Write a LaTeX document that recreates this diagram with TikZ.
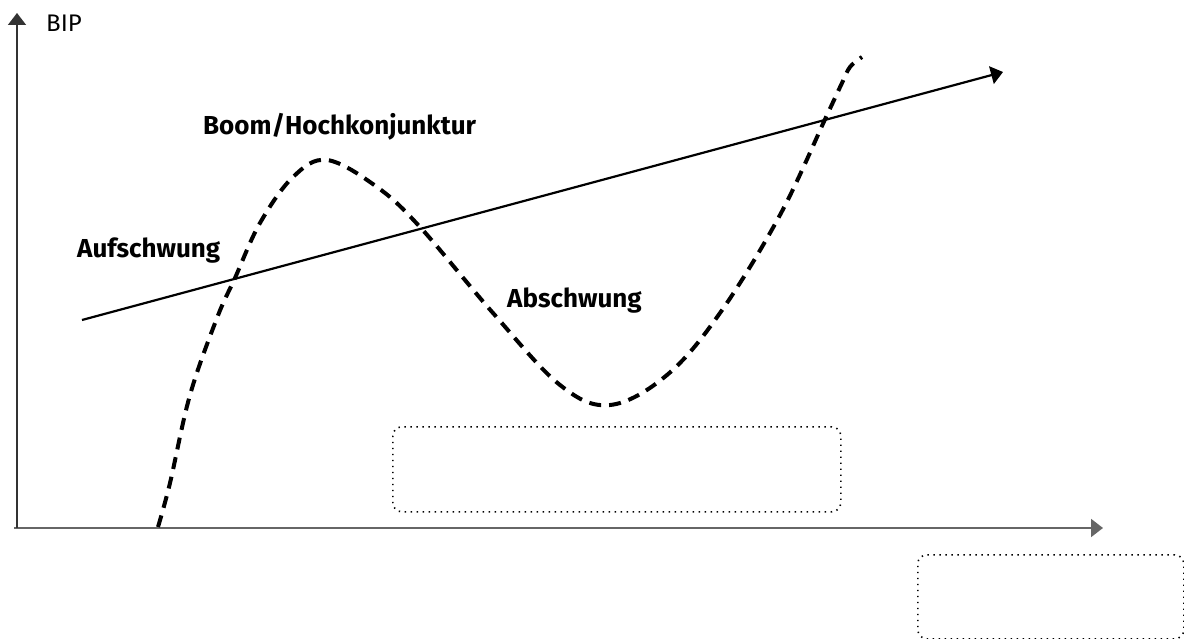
\documentclass[tikz,border=0pt]{standalone}
\usepackage{fontspec}
\setmainfont{Fira Sans}
\usetikzlibrary{arrows.meta}
\begin{document}
\begin{tikzpicture}[x=1pt,y=-1pt,
  axisarrow/.style={-{Triangle[length=12pt,width=18pt]}},
  lbl/.style={inner sep=0pt,anchor=base west,font=\fontsize{26}{30}\selectfont\bfseries},
  cycle/.style={line width=4pt,dash pattern=on 12pt off 8pt},
  dotbox/.style={draw=black,line width=1.6pt,dash pattern=on 1.4pt off 4.6pt,rounded corners=9pt}]
\useasboundingbox (0,0) rectangle (1184,639);
% axes
\coordinate (o) at (17,528);
\coordinate (ytip) at (17,13);
\coordinate (xtip) at (1103,528);
\coordinate (xstart) at (14,528);
\draw[line width=2pt,black!60,axisarrow] (xstart) -- (xtip);
\draw[line width=1.6pt,black!80,axisarrow] (o) -- (ytip);
\node[inner sep=0pt,anchor=base west,font=\fontsize{24}{28}\selectfont] (bip) at (46,32) {BIP};
% trend line
\coordinate (t0) at (82,320);
\coordinate (t1) at (1003,72);
\draw[line width=2.2pt,-{Triangle[length=12pt,width=18pt]}] (t0) -- (t1);
% business cycle
\draw[cycle] plot[smooth,tension=0.6] coordinates {(158,527) (170,483) (190,395) (217,318) (235,278) (260,223) (293,177) (327,160) (377,187) (420,227) (493,313) (560,385) (610,405) (667,375) (720,313) (780,215) (827,115) (842,83) (850,67) (862,57)};
% labels
\node[lbl] (auf) at (77,258) {Aufschwung};
\node[lbl] (boom) at (203,135) {Boom/Hochkonjunktur};
\node[lbl] (ab) at (507,307) {Abschwung};
% empty boxes
\node[dotbox,minimum width=448pt,minimum height=85pt,anchor=north west] (box1) at (392,426) {};
\node[dotbox,minimum width=266pt,minimum height=84pt,anchor=north west] (box2) at (917,554) {};
\end{tikzpicture}
\end{document}
